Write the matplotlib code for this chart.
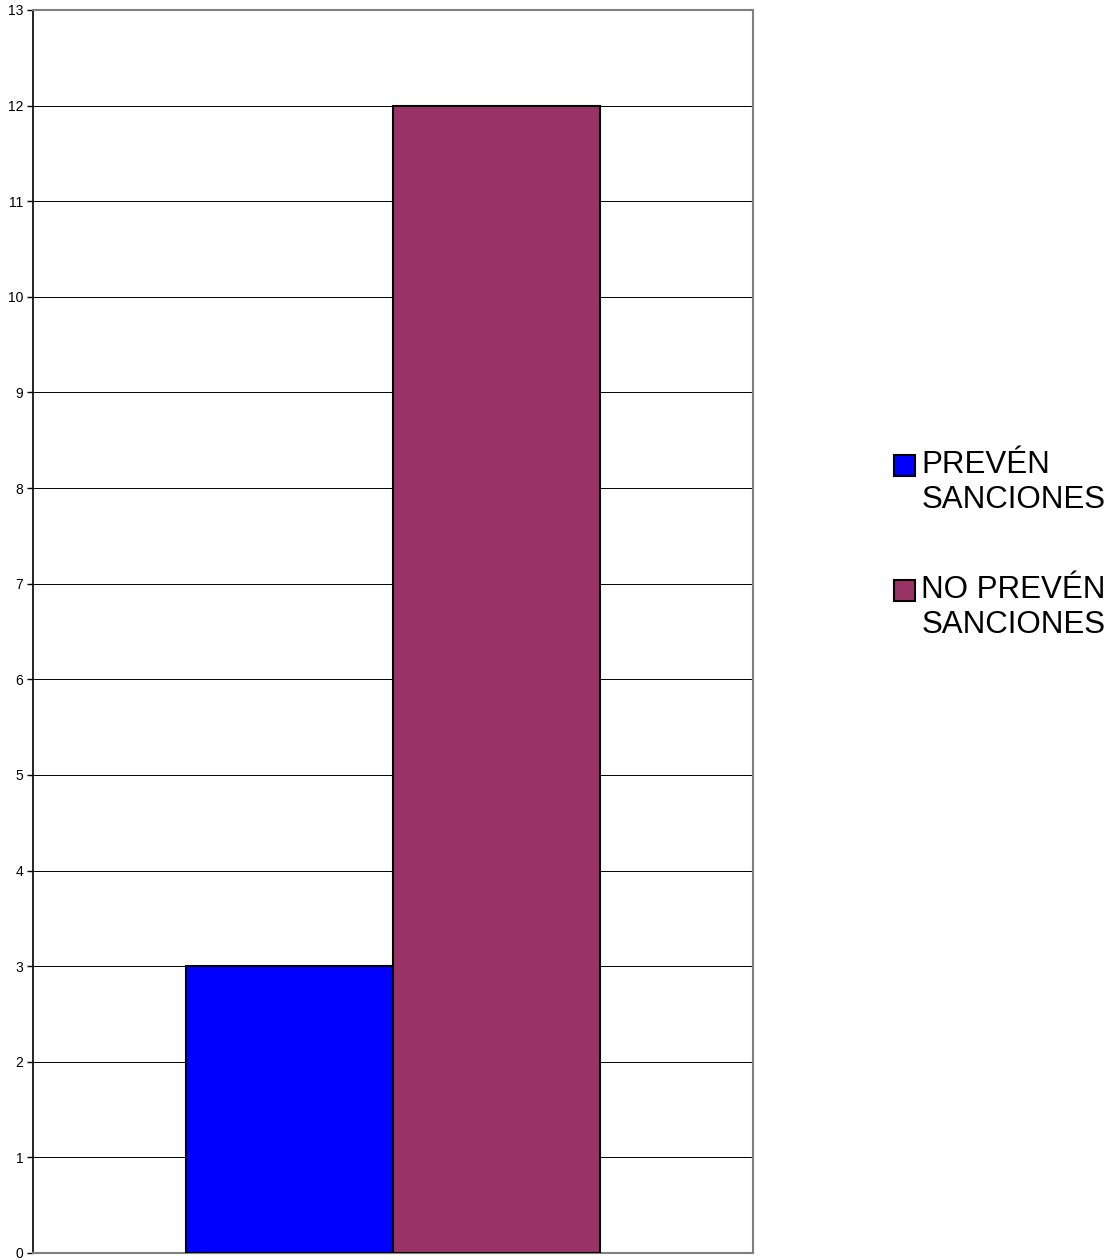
import matplotlib.pyplot as plt
from matplotlib.patches import Patch, Rectangle
from matplotlib.legend_handler import HandlerPatch

plt.rcParams['font.family'] = ['Liberation Sans', 'DejaVu Sans']

# data
series = ["PREVÉN\nSANCIONES", "NO PREVÉN\nSANCIONES"]
values = [3, 12]
colors = ["#0000FF", "#993366"]
yticks = list(range(0, 14))

fig = plt.figure(figsize=(11.1, 12.6), dpi=100)
ax = fig.add_axes([33/1110, 7/1260, 720/1110, 1243/1260])

width = 0.287
offsets = [-width/2, width/2]
for off, v, c in zip(offsets, values, colors):
    ax.bar(off, v, width=width, color=c, edgecolor="black", linewidth=1.5, zorder=3)

ax.set_xlim(-0.5, 0.5)
ax.set_ylim(0, 13)
ax.set_yticks(yticks)
ax.set_yticklabels([str(t) for t in yticks], fontsize=10)
ax.set_xticks([])
ax.tick_params(axis="y", length=4, width=1, direction="out", pad=3)
ax.yaxis.grid(True, color="black", linewidth=0.7, zorder=0)

ax.spines["left"].set_color("black")
ax.spines["left"].set_linewidth(1.2)
for s in ["top", "right", "bottom"]:
    ax.spines[s].set_color("#808080")
    ax.spines[s].set_linewidth(1.5)


# legend square sits next to the first line of the label
def top_square(legend, orig_handle, xdescent, ydescent, width, height, fontsize):
    return Rectangle((-xdescent, -ydescent + 12.6), width, height)


handles = [Patch(facecolor=c, edgecolor="black", linewidth=1.5) for c in colors]
fig.legend(handles, series, loc="center left", bbox_to_anchor=(894/1110, 1 - 545/1260),
           frameon=False, fontsize=22.5, handlelength=0.67, handleheight=0.67,
           handletextpad=0.2, labelspacing=1.95, borderpad=0, borderaxespad=0,
           handler_map={Patch: HandlerPatch(patch_func=top_square)})

fig.savefig("out.png", dpi=100)
